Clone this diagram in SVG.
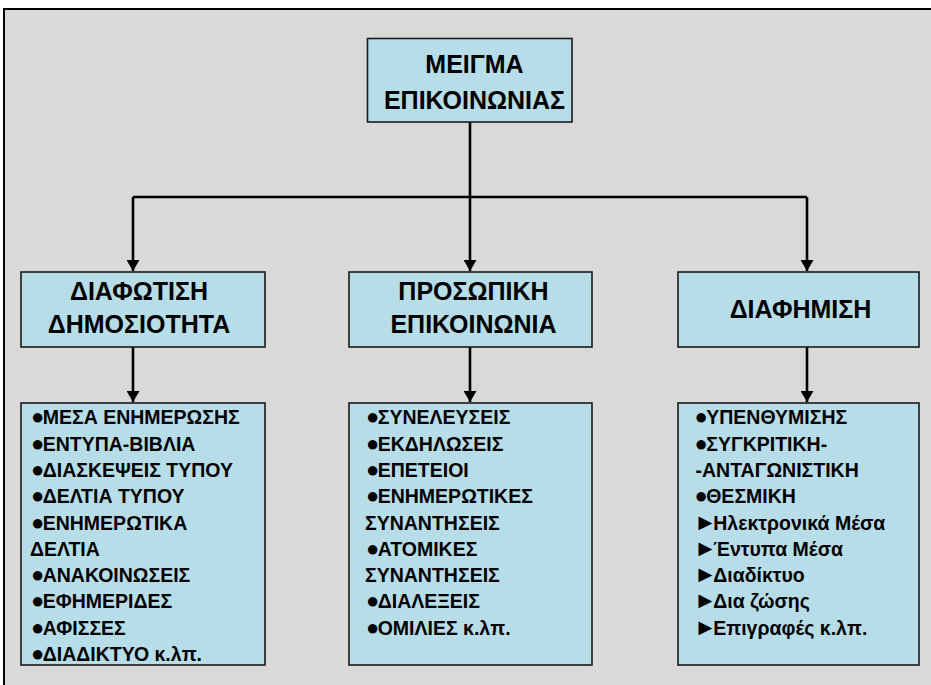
<svg xmlns="http://www.w3.org/2000/svg" width="931" height="685" viewBox="0 0 931 685">
<defs>
<style>
.box{fill:#b7dde8;stroke:#1a1a1a;stroke-width:1.6}
.t{font-family:"Liberation Sans",Arial,sans-serif;font-weight:bold;fill:#000}
.h{font-size:25px;text-anchor:middle}
.l{font-size:19.5px}
.b{font-size:22px;letter-spacing:-1.6px}
.p{font-size:23px;letter-spacing:-3.5px}
.c{fill:none;stroke:#000;stroke-width:2.6}
</style>
<marker id="ah" markerUnits="userSpaceOnUse" markerWidth="11" markerHeight="13" refX="11" refY="6.5" orient="auto" viewBox="0 0 11 13">
<path d="M0,0 L11,6.5 L0,13 Z" fill="#000"/>
</marker>
</defs>
<rect x="0" y="0" width="931" height="685" fill="#ffffff"/>
<rect x="4" y="9" width="940" height="690" fill="#d9d9d9" stroke="#000" stroke-width="2"/>
<g id="connectors">
<path class="c" d="M470,122 V197"/>
<path class="c" d="M133,197 H807"/>
<path class="c" d="M133,197 V271" marker-end="url(#ah)"/>
<path class="c" d="M470,197 V271" marker-end="url(#ah)"/>
<path class="c" d="M807,197 V271" marker-end="url(#ah)"/>
<path class="c" d="M133,347 V402" marker-end="url(#ah)"/>
<path class="c" d="M470,347 V402" marker-end="url(#ah)"/>
<path class="c" d="M807,347 V402" marker-end="url(#ah)"/>
</g>
<g id="root">
<rect class="box" x="367.5" y="38.5" width="204.5" height="83.5"/>
<text class="t h" x="474.5" y="73">ΜΕΙΓΜΑ</text>
<text class="t h" x="474.5" y="108.5">ΕΠΙΚΟΙΝΩΝΙΑΣ</text>
</g>
<g id="diafotisi">
<rect class="box" x="21" y="272" width="244" height="75"/>
<text class="t h" x="139" y="300">ΔΙΑΦΩΤΙΣΗ</text>
<text class="t h" x="139" y="332.5">ΔΗΜΟΣΙΟΤΗΤΑ</text>
</g>
<g id="prosopiki">
<rect class="box" x="349" y="272" width="243" height="75"/>
<text class="t h" x="473.5" y="300">ΠΡΟΣΩΠΙΚΗ</text>
<text class="t h" x="473.5" y="332.5">ΕΠΙΚΟΙΝΩΝΙΑ</text>
</g>
<g id="diafimisi">
<rect class="box" x="678" y="272" width="241" height="75"/>
<text class="t h" x="800.5" y="318.3">ΔΙΑΦΗΜΙΣΗ</text>
</g>
<g id="list-diafotisi">
<rect class="box" x="21" y="403" width="244" height="262"/>
<text class="t l" y="424.3">
<tspan x="31" class="b">●</tspan><tspan>ΜΕΣΑ ΕΝΗΜΕΡΩΣΗΣ</tspan>
<tspan x="31" dy="26.3" class="b">●</tspan><tspan>ΕΝΤΥΠΑ-ΒΙΒΛΙΑ</tspan>
<tspan x="31" dy="26.3" class="b">●</tspan><tspan>ΔΙΑΣΚΕΨΕΙΣ ΤΥΠΟΥ</tspan>
<tspan x="31" dy="26.3" class="b">●</tspan><tspan>ΔΕΛΤΙΑ ΤΥΠΟΥ</tspan>
<tspan x="31" dy="26.3" class="b">●</tspan><tspan>ΕΝΗΜΕΡΩΤΙΚΑ</tspan>
<tspan x="30" dy="26.3">ΔΕΛΤΙΑ</tspan>
<tspan x="31" dy="26.3" class="b">●</tspan><tspan>ΑΝΑΚΟΙΝΩΣΕΙΣ</tspan>
<tspan x="31" dy="26.3" class="b">●</tspan><tspan>ΕΦΗΜΕΡΙΔΕΣ</tspan>
<tspan x="31" dy="26.3" class="b">●</tspan><tspan>ΑΦΙΣΣΕΣ</tspan>
<tspan x="31" dy="26.3" class="b">●</tspan><tspan>ΔΙΑΔΙΚΤΥΟ κ.λπ.</tspan>
</text>
</g>
<g id="list-prosopiki">
<rect class="box" x="349" y="403" width="243" height="262"/>
<text class="t l" y="424.3">
<tspan x="366" class="b">●</tspan><tspan>ΣΥΝΕΛΕΥΣΕΙΣ</tspan>
<tspan x="366" dy="26.3" class="b">●</tspan><tspan>ΕΚΔΗΛΩΣΕΙΣ</tspan>
<tspan x="366" dy="26.3" class="b">●</tspan><tspan>ΕΠΕΤΕΙΟΙ</tspan>
<tspan x="366" dy="26.3" class="b">●</tspan><tspan>ΕΝΗΜΕΡΩΤΙΚΕΣ</tspan>
<tspan x="365" dy="26.3">ΣΥΝΑΝΤΗΣΕΙΣ</tspan>
<tspan x="366" dy="26.3" class="b">●</tspan><tspan>ΑΤΟΜΙΚΕΣ</tspan>
<tspan x="365" dy="26.3">ΣΥΝΑΝΤΗΣΕΙΣ</tspan>
<tspan x="366" dy="26.3" class="b">●</tspan><tspan>ΔΙΑΛΕΞΕΙΣ</tspan>
<tspan x="366" dy="26.3" class="b">●</tspan><tspan>ΟΜΙΛΙΕΣ κ.λπ.</tspan>
</text>
</g>
<g id="list-diafimisi">
<rect class="box" x="678" y="403" width="241" height="262"/>
<text class="t l" y="424.3">
<tspan x="694.5" class="b">●</tspan><tspan>ΥΠΕΝΘΥΜΙΣΗΣ</tspan>
<tspan x="694.5" dy="26.3" class="b">●</tspan><tspan>ΣΥΓΚΡΙΤΙΚΗ-</tspan>
<tspan x="695.5" dy="26.3">-ΑΝΤΑΓΩΝΙΣΤΙΚΗ</tspan>
<tspan x="694.5" dy="26.3" class="b">●</tspan><tspan>ΘΕΣΜΙΚΗ</tspan>
<tspan x="694" dy="26.3" class="p">►</tspan><tspan>Ηλεκτρονικά Μέσα</tspan>
<tspan x="694" dy="26.3" class="p">►</tspan><tspan>Έντυπα Μέσα</tspan>
<tspan x="694" dy="26.3" class="p">►</tspan><tspan>Διαδίκτυο</tspan>
<tspan x="694" dy="26.3" class="p">►</tspan><tspan>Δια ζώσης</tspan>
<tspan x="694" dy="26.3" class="p">►</tspan><tspan>Επιγραφές κ.λπ.</tspan>
</text>
</g>
</svg>
